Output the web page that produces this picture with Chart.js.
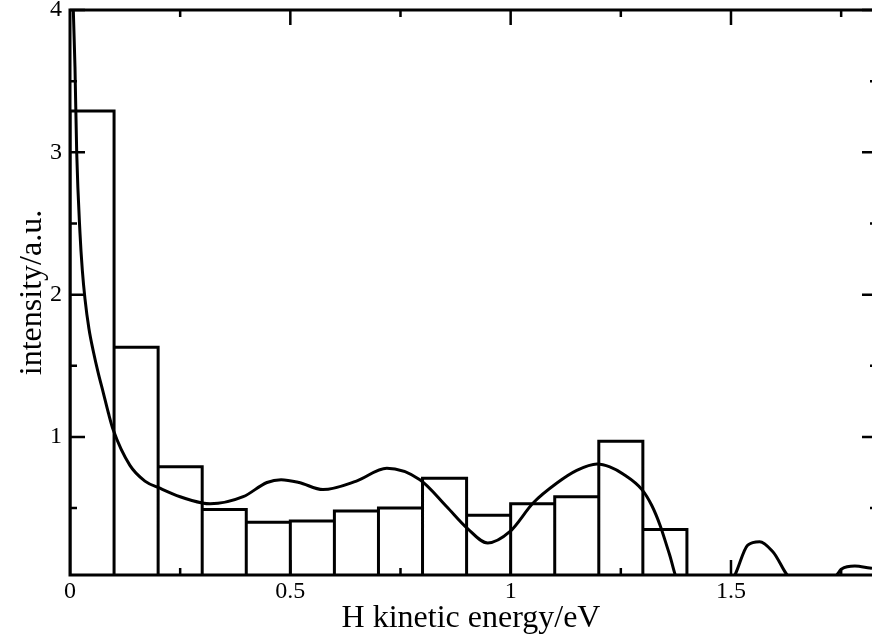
<!DOCTYPE html>
<html>
<head>
<meta charset="utf-8">
<script src="https://cdn.jsdelivr.net/npm/chart.js@4.4.0/dist/chart.umd.min.js"></script>
<style>
  html, body { margin: 0; padding: 0; background: #fff; }
  #chart { display: block; }
</style>
</head>
<body>
<canvas id="chart" width="872" height="644"></canvas>
<script>
// histogram: bin edges (eV) and bar heights
const binEdges = [0, 0.1, 0.2, 0.3, 0.4, 0.5, 0.6, 0.7, 0.8, 0.9, 1.0, 1.1, 1.2, 1.3, 1.4];
const binHeights = [3.29, 1.63, 0.79, 0.49, 0.40, 0.41, 0.48, 0.50, 0.71, 0.45, 0.53, 0.58, 0.97, 0.35];

// smooth distribution curve
const curveE = [0.004, 0.0075, 0.0113, 0.0152, 0.0227, 0.028, 0.034, 0.043, 0.053, 0.064, 0.0756, 0.087, 0.098,
  0.136, 0.17, 0.204, 0.25, 0.30, 0.318, 0.393, 0.447, 0.479, 0.52, 0.574, 0.65, 0.719, 0.794, 0.855, 0.901,
  0.948, 0.998, 1.051, 1.105, 1.15, 1.196, 1.225, 1.255, 1.298, 1.32, 1.339, 1.36, 1.38, 1.5, 1.538, 1.565,
  1.595, 1.64, 1.73, 1.751, 1.781, 1.815, 1.82];
const curveI = [4.5, 4.0, 3.60, 3.00, 2.43, 2.17, 1.97, 1.76, 1.60, 1.45, 1.31, 1.17, 1.05,
  0.80, 0.69, 0.64, 0.58, 0.536, 0.53, 0.58, 0.68, 0.70, 0.68, 0.63, 0.69, 0.78, 0.70, 0.51, 0.36,
  0.255, 0.334, 0.536, 0.676, 0.765, 0.81, 0.79, 0.74, 0.63, 0.52, 0.38, 0.18, 0, 0, 0.24, 0.264,
  0.194, 0, 0, 0.072, 0.093, 0.079, 0.077];

const xTicks = [0, 0.5, 1, 1.5];
const yTicks = [1, 2, 3, 4];
const xMin = 0, xMax = 1.82;
const yMin = 0.03, yMax = 4;

const histPoints = [{ x: binEdges[0], y: 0 }];
binHeights.forEach((h, i) => {
  histPoints.push({ x: binEdges[i], y: h }, { x: binEdges[i + 1], y: h }, { x: binEdges[i + 1], y: 0 });
});
const curvePoints = curveE.map((e, i) => ({ x: e, y: curveI[i] }));

const serif = "'Liberation Serif', 'Times New Roman', serif";
const tickFont = { family: serif, size: 24 };
const titleFont = { family: serif, size: 32 };

// frame with inward ticks on all four sides (xmgrace style)
const frameTicks = {
  id: 'frameTicks',
  afterDatasetsDraw(chart) {
    const { ctx, chartArea: ca, scales: { x, y } } = chart;
    const rightEdge = ca.right + 5;
    ctx.save();
    ctx.strokeStyle = '#000';
    ctx.lineWidth = 3;
    ctx.beginPath();
    ctx.moveTo(rightEdge, ca.top);
    ctx.lineTo(ca.left, ca.top);
    ctx.lineTo(ca.left, ca.bottom);
    ctx.lineTo(rightEdge, ca.bottom);
    ctx.stroke();

    ctx.lineWidth = 2.5;
    ctx.beginPath();
    for (let i = 1; i * 0.25 <= xMax; i++) {
      const px = x.getPixelForValue(i * 0.25);
      const len = i % 2 === 0 ? 15 : 7;
      ctx.moveTo(px, ca.bottom); ctx.lineTo(px, ca.bottom - len);
      ctx.moveTo(px, ca.top); ctx.lineTo(px, ca.top + len);
    }
    for (let i = 1; i * 0.5 <= yMax; i++) {
      const py = y.getPixelForValue(i * 0.5);
      const len = i % 2 === 0 ? 15 : 7;
      ctx.moveTo(ca.left, py); ctx.lineTo(ca.left + len, py);
      ctx.moveTo(rightEdge, py); ctx.lineTo(rightEdge - len, py);
    }
    ctx.stroke();
    ctx.restore();
  }
};

new Chart(document.getElementById('chart'), {
  type: 'scatter',
  data: {
    datasets: [
      {
        label: 'histogram',
        data: histPoints,
        showLine: true,
        borderColor: '#000',
        borderWidth: 3,
        borderJoinStyle: 'miter',
        pointRadius: 0,
        tension: 0,
        fill: false
      },
      {
        label: 'distribution',
        data: curvePoints,
        showLine: true,
        borderColor: '#000',
        borderWidth: 3,
        pointRadius: 0,
        cubicInterpolationMode: 'monotone',
        fill: false
      }
    ]
  },
  options: {
    responsive: false,
    animation: false,
    devicePixelRatio: 1,
    layout: { padding: { top: 10, right: 0, bottom: 0, left: 0 } },
    plugins: { legend: { display: false }, tooltip: { enabled: false } },
    scales: {
      x: {
        type: 'linear',
        min: xMin,
        max: xMax,
        grid: { display: false, drawTicks: false },
        border: { display: false },
        afterBuildTicks: s => { s.ticks = xTicks.map(v => ({ value: v })); },
        ticks: { color: '#000', font: tickFont, padding: 2, maxRotation: 0, autoSkip: false, callback: v => String(v) },
        title: { display: true, text: 'H kinetic energy/eV', color: '#000', font: titleFont, padding: { top: 0, bottom: 6 } },
        afterFit: s => { s.height = 69; s.paddingLeft = 0; s.paddingRight = 0; }
      },
      y: {
        type: 'linear',
        min: yMin,
        max: yMax,
        grid: { display: false, drawTicks: false },
        border: { display: false },
        afterBuildTicks: s => { s.ticks = yTicks.map(v => ({ value: v })); },
        ticks: { color: '#000', font: tickFont, padding: 8, callback: v => String(v) },
        title: { display: true, text: 'intensity/a.u.', color: '#000', font: titleFont, padding: { top: 13, bottom: 0 } },
        afterFit: s => { s.width = 70; s.paddingTop = 0; s.paddingBottom = 0; }
      }
    }
  },
  plugins: [frameTicks]
});
</script>
</body>
</html>
